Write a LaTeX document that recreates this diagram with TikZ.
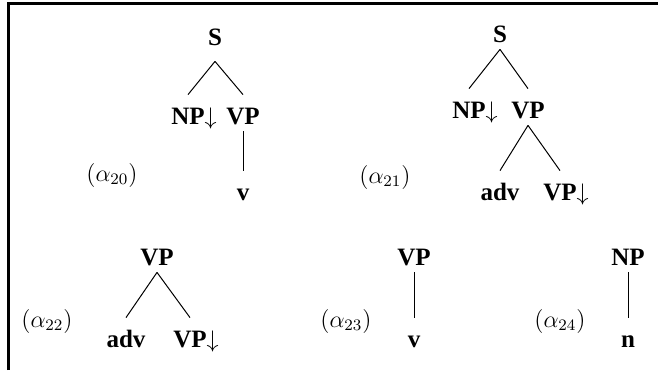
\documentclass[tikz,border=0pt]{standalone}
\usepackage{fontspec}
\setmainfont{Liberation Serif}

\begin{document}
\begin{tikzpicture}[x=0.5pt, y=-0.5pt,
  cat/.style={font=\fontsize{12.5}{14}\selectfont\bfseries, anchor=base,
    inner xsep=1pt, inner ysep=3.5pt, text height=11pt, text depth=0pt},
  tag/.style={font=\fontsize{12}{14}\selectfont},
  branch/.style={line width=0.5pt}]

\useasboundingbox (0,0) rectangle (658,370);

% frame
\draw[line width=1.5pt] (8,370) -- (8,3) -- (658,3);

% alpha 20
\node[cat, inner ysep=8pt] (s20) at (215,45) {S};
\node[cat] (np20) at (188,124) {NP\rlap{$\downarrow$}};
\node[cat] (vp20) at (243,124) {VP};
\node[cat] (v20) at (243,200) {v};
\node[tag] (t20) at (112,175) {$(\alpha_{20})$};
\draw[branch] (s20.south) -- (np20.north);
\draw[branch] (s20.south) -- (vp20.north);
\draw[branch] (vp20.south) -- (v20.north);

% alpha 21
\node[cat] (s21) at (500,42) {S};
\node[cat] (np21) at (469,118) {NP\rlap{$\downarrow$}};
\node[cat] (vp21) at (528,118) {VP};
\node[cat] (adv21) at (500,200) {adv};
\node[cat] (vpf21) at (560,200) {VP\rlap{$\downarrow$}};
\node[tag] (t21) at (385,177) {$(\alpha_{21})$};
\draw[branch] (s21.south) -- (np21.north);
\draw[branch] (s21.south) -- (vp21.north);
\draw[branch] (vp21.south) -- (adv21.north);
\draw[branch] (vp21.south) -- (vpf21.north);

% alpha 22
\node[cat] (vp22) at (157,265) {VP};
\node[cat] (adv22) at (126,347) {adv};
\node[cat] (vpf22) at (190,347) {VP\rlap{$\downarrow$}};
\node[tag] (t22) at (47,321) {$(\alpha_{22})$};
\draw[branch] (vp22.south) -- (adv22.north);
\draw[branch] (vp22.south) -- (vpf22.north);

% alpha 23
\node[cat] (vp23) at (414,265) {VP};
\node[cat] (v23) at (414,347) {v};
\node[tag] (t23) at (346,321) {$(\alpha_{23})$};
\draw[branch] (vp23.south) -- (v23.north);

% alpha 24
\node[cat] (np24) at (628,265) {NP};
\node[cat] (n24) at (628,347) {n};
\node[tag] (t24) at (560,321) {$(\alpha_{24})$};
\draw[branch] (np24.south) -- (n24.north);

\end{tikzpicture}
\end{document}
